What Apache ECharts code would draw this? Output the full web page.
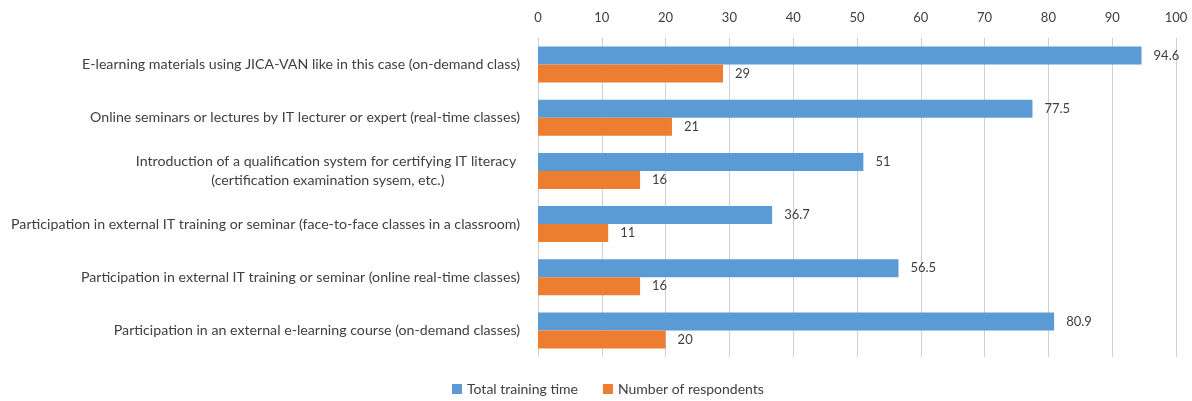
<!DOCTYPE html>
<html>
<head>
<meta charset="utf-8">
<script src="https://cdn.jsdelivr.net/npm/echarts@6/dist/echarts.min.js"></script>
<style>
  html, body { margin: 0; padding: 0; background: #fff; }
  #chart { width: 1192px; height: 401px; }
</style>
</head>
<body>
<div id="chart"></div>
<script>
// Training options, listed top to bottom
const categories = [
  'E-learning materials using JICA-VAN like in this case (on-demand class)',
  'Online seminars or lectures by IT lecturer or expert (real-time classes)',
  'Introduction of a qualification system for certifying IT literacy \n(certification examination sysem, etc.)',
  'Participation in external IT training or seminar (face-to-face classes in a classroom)',
  'Participation in external IT training or seminar (online real-time classes)',
  'Participation in an external e-learning course (on-demand classes)'
];
const totalTrainingTime = [94.6, 77.5, 51, 36.7, 56.5, 80.9];
const numberOfRespondents = [29, 21, 16, 11, 16, 20];
const axisTicks = { min: 0, max: 100, interval: 10 };

const FONT = 'Lato, "Liberation Sans", sans-serif';
const TEXT = '#404040';

const chart = echarts.init(document.getElementById('chart'));
chart.setOption({
  animation: false,
  textStyle: { fontFamily: FONT },
  grid: { left: 538, right: 16, top: 38, bottom: 44, containLabel: false },
  legend: {
    top: 382,
    left: 452,
    padding: 0,
    itemWidth: 10,
    itemHeight: 10,
    itemGap: 25,
    icon: 'rect',
    textStyle: { fontFamily: FONT, fontSize: 14, color: TEXT },
    data: ['Total training time', 'Number of respondents']
  },
  xAxis: {
    type: 'value',
    position: 'top',
    min: axisTicks.min,
    max: axisTicks.max,
    interval: axisTicks.interval,
    axisLine: { show: false },
    axisTick: { show: false },
    axisLabel: { fontFamily: FONT, fontSize: 13, color: TEXT, margin: 14 },
    splitLine: { show: true, lineStyle: { color: '#d0d0d0', width: 1 } }
  },
  yAxis: {
    type: 'category',
    inverse: true,
    data: categories,
    axisLine: { show: false },
    axisTick: { show: false },
    axisLabel: {
      fontFamily: FONT, fontSize: 14.2, color: TEXT, margin: 18,
      align: 'right', lineHeight: 19,
      // each line is centred inside the right-aligned label block
      formatter: (v) => v.split('\n').map((s) => '{c|' + s + '}').join('\n'),
      rich: {
        c: { align: 'center', fontFamily: FONT, fontSize: 14.2, color: TEXT, lineHeight: 19 }
      }
    }
  },
  series: [
    {
      name: 'Total training time',
      type: 'bar',
      data: totalTrainingTime,
      barWidth: 18,
      barGap: '0%',
      itemStyle: { color: '#5B9BD5' },
      label: {
        show: true, position: 'right', distance: 12,
        fontFamily: FONT, fontSize: 13, color: TEXT
      }
    },
    {
      name: 'Number of respondents',
      type: 'bar',
      data: numberOfRespondents,
      barWidth: 18,
      barGap: '0%',
      itemStyle: { color: '#ED7D31' },
      label: {
        show: true, position: 'right', distance: 12,
        fontFamily: FONT, fontSize: 13, color: TEXT
      }
    }
  ]
});
</script>
</body>
</html>
